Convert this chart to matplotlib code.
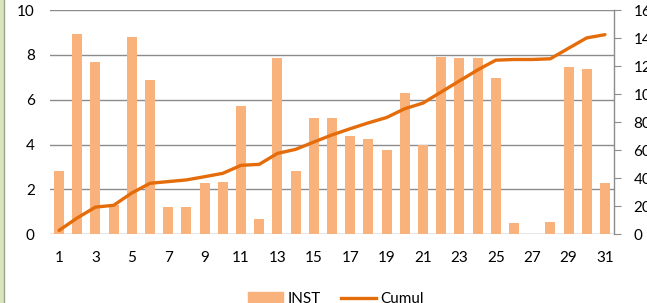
import matplotlib
matplotlib.use("Agg")
import matplotlib.pyplot as plt
from matplotlib.patches import Rectangle
from matplotlib.lines import Line2D

plt.rcParams['font.family'] = ['Lato', 'DejaVu Sans']

days = list(range(1, 32))
inst = [2.8, 8.95, 7.68, 1.3, 8.78, 6.89, 1.23, 1.23, 2.28, 2.35,
        5.73, 0.68, 7.86, 2.83, 5.18, 5.18, 4.38, 4.24, 3.75, 6.32,
        4.0, 7.92, 7.86, 7.86, 6.95, 0.49, 0.0, 0.56, 7.48, 7.37, 2.28]
cumul = [2.8, 11.7, 19.4, 20.7, 29.5, 36.4, 37.6, 38.8, 41.1, 43.5,
         49.2, 49.9, 57.7, 60.6, 65.8, 70.9, 75.3, 79.5, 83.3, 89.6,
         93.6, 101.5, 109.4, 117.2, 124.2, 124.7, 124.7, 125.2, 132.7, 140.1, 142.4]
xlabels = [str(d) if d % 2 == 1 else "" for d in days]

W, H = 647, 303
fig = plt.figure(figsize=(W / 100, H / 100), dpi=100)
ax = fig.add_axes([50 / W, (H - 234.3) / H, (614 - 50) / W, 224.3 / H])

bar_col = "#F9B27B"
line_col = "#E46C0A"

ax.bar(days, inst, width=0.55, color=bar_col, zorder=2)
ax.set_xlim(0.5, 31.5)
ax.set_ylim(0, 10)
ax.set_yticks([0, 2, 4, 6, 8, 10])
ax.set_xticks(days)
ax.set_xticklabels(xlabels)
ax.grid(axis="y", color="#8c8c8c", linewidth=1, zorder=0)
ax.tick_params(axis="both", length=0, labelsize=11, colors="black")
ax.tick_params(axis="x", pad=12)
ax.tick_params(axis="y", pad=11)
for s in ax.spines.values():
    s.set_visible(False)

ax2 = ax.twinx()
ax2.plot(days, cumul, color=line_col, linewidth=2.4, solid_capstyle="round", zorder=3)
ax2.set_ylim(0, 160)
ax2.set_yticks(range(0, 161, 20))
ax2.tick_params(axis="y", length=5, color="#8c8c8c", labelsize=11, pad=9)
for k in ["top", "bottom", "left"]:
    ax2.spines[k].set_visible(False)
ax2.spines["right"].set_color("#8c8c8c")
ax2.spines["right"].set_linewidth(1)

handles = [Rectangle((0, 0), 1, 1, color=bar_col),
           Line2D([0], [0], color=line_col, linewidth=2.4)]
fig.legend(handles, ["INST", "Cumul"], loc="center", bbox_to_anchor=(336 / W, 1 - 299 / H),
           ncol=2, frameon=False, fontsize=11, handlelength=2.3, handletextpad=0.3,
           columnspacing=1.3)

# light green frame on the left edge
fig.patches.append(Rectangle((0, 0), 3 / W, 1, transform=fig.transFigure,
                             color="#D7E4BD", zorder=0))
fig.lines.append(Line2D([3.5 / W, 3.5 / W], [0, 1], transform=fig.transFigure,
                        color="#9aa58a", linewidth=1))

fig.savefig("out.png", dpi=100)
